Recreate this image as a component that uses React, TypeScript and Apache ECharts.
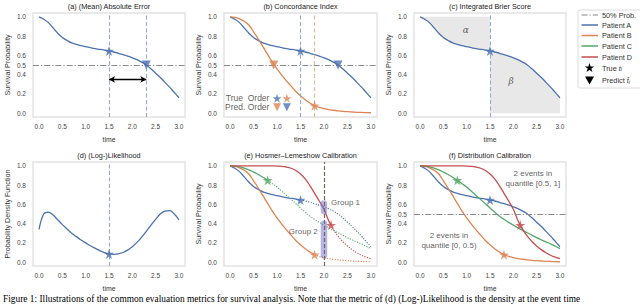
import React, { useEffect, useRef } from 'react';
import * as echarts from 'echarts';

// ---------- data ----------
const TIMES = [0, 0.1, 0.2, 0.3, 0.4, 0.5, 0.6, 0.7, 0.8, 0.9, 1.0, 1.1, 1.2, 1.3, 1.4, 1.5, 1.6, 1.7, 1.8, 1.9, 2.0, 2.1, 2.2, 2.3, 2.4, 2.5, 2.6, 2.7, 2.8, 2.9, 3.0];
const PATIENT_A = [1.0, 0.975, 0.94, 0.885, 0.83, 0.785, 0.755, 0.73, 0.715, 0.7, 0.69, 0.68, 0.67, 0.663, 0.655, 0.645, 0.635, 0.622, 0.607, 0.592, 0.575, 0.555, 0.53, 0.5, 0.46, 0.415, 0.37, 0.32, 0.27, 0.215, 0.16];
const PATIENT_B = [1.0, 0.995, 0.98, 0.955, 0.915, 0.845, 0.77, 0.69, 0.61, 0.53, 0.46, 0.395, 0.335, 0.28, 0.225, 0.18, 0.14, 0.105, 0.078, 0.06, 0.047, 0.037, 0.03, 0.024, 0.019, 0.015, 0.012, 0.009, 0.007, 0.005, 0.004];
const PATIENT_C = [1.0, 0.997, 0.99, 0.977, 0.958, 0.935, 0.91, 0.882, 0.85, 0.815, 0.78, 0.737, 0.693, 0.65, 0.607, 0.563, 0.52, 0.48, 0.445, 0.413, 0.385, 0.357, 0.33, 0.305, 0.28, 0.255, 0.232, 0.21, 0.19, 0.165, 0.14];
const PATIENT_D = [1.0, 1.0, 1.0, 1.0, 1.0, 1.0, 1.0, 1.0, 1.0, 0.999, 0.998, 0.995, 0.988, 0.975, 0.952, 0.915, 0.865, 0.795, 0.715, 0.635, 0.55, 0.43, 0.34, 0.27, 0.215, 0.168, 0.13, 0.098, 0.072, 0.052, 0.036];
const PDF_A = [0.34, 0.5, 0.52, 0.49, 0.44, 0.39, 0.345, 0.3, 0.265, 0.23, 0.2, 0.17, 0.145, 0.12, 0.1, 0.085, 0.08, 0.085, 0.1, 0.125, 0.16, 0.205, 0.26, 0.32, 0.385, 0.445, 0.5, 0.53, 0.535, 0.5, 0.44];

// true event times / survival at true time (A, B, C, D)
const TRUE_T = [1.5, 1.8, 0.8, 2.15];
const TRUE_S = [0.645, 0.078, 0.85, 0.385];
// predicted median times (A, B)
const PRED_T = [2.3, 0.93];
const PRED_S = [0.5, 0.5];
const PDF_STAR = [1.5, 0.085];

const X_TICKS = [0, 0.5, 1.0, 1.5, 2.0, 2.5, 3.0];
const Y_TICKS_HALF = [0, 0.2, 0.4, 0.5, 0.6, 0.8, 1.0];
const Y_TICKS = [0, 0.2, 0.4, 0.6, 0.8, 1.0];

const TITLES = ['(a) (Mean) Absolute Error', '(b) Concordance Index', '(c) Integrated Brier Score', '(d) (Log-)Likelihood', '(e) Hosmer\u2013Lemeshow Calibration', '(f) Distribution Calibration'];
const LEGEND_LABELS = ['50% Prob.', 'Patient A', 'Patient B', 'Patient C', 'Patient D'];
const CAPTION = 'Figure 1: Illustrations of the common evaluation metrics for survival analysis. Note that the metric of (d) (Log-)Likelihood is the density at the event time';

// ---------- style ----------
const BLUE = '#4c72b0';
const ORANGE = '#dd8452';
const GREEN = '#55a868';
const RED = '#c44e52';
const COLORS = [BLUE, ORANGE, GREEN, RED];
const LIGHT_BLUE = '#8fa9d9';
const LIGHT_ORANGE = '#f2b48c';
const GRAY = '#8a8a8a';
const FONT = 'Liberation Sans, Arial, Helvetica, sans-serif';
const STAR = 'path://M0,-10 L2.245,-3.09 L9.51,-3.09 L3.633,1.18 L5.88,8.09 L0,3.82 L-5.88,8.09 L-3.633,1.18 L-9.51,-3.09 L-2.245,-3.09 Z';
const DASHDOT = [6, 2, 1.2, 2];
const CLEAR = 'rgba(0,0,0,0)';

const GRIDS = [
  { left: 33, top: 13, width: 152, height: 104 },
  { left: 224, top: 13, width: 153, height: 104 },
  { left: 414, top: 13, width: 152, height: 104 },
  { left: 33, top: 162, width: 152, height: 104 },
  { left: 224, top: 162, width: 153, height: 104 },
  { left: 414, top: 162, width: 152, height: 104 },
];

const pairs = (ts: number[], vs: number[]) => ts.map((t, i) => [t, vs[i]]);

function split(vals: number[], tStar: number, sStar: number) {
  const solid: number[][] = [];
  const dotted: number[][] = [];
  TIMES.forEach((t, i) => {
    if (t < tStar - 1e-9) solid.push([t, vals[i]]);
    if (t > tStar + 1e-9) dotted.push([t, vals[i]]);
  });
  solid.push([tStar, sStar]);
  dotted.unshift([tStar, sStar]);
  return { solid, dotted };
}

function xAx(i: number) {
  return {
    gridIndex: i, type: 'value', min: -0.13, max: 3.13,
    axisLine: { show: false }, axisTick: { show: false }, splitLine: { show: false },
    axisLabel: { customValues: X_TICKS, formatter: (v: number) => v.toFixed(1), fontSize: 6.5, color: '#444', margin: 6, fontFamily: FONT },
    name: 'time', nameLocation: 'middle', nameGap: 19,
    nameTextStyle: { fontSize: 6.9, color: '#333', fontFamily: FONT },
  };
}

function yAx(i: number, ticks: number[], name: string) {
  return {
    gridIndex: i, type: 'value', min: -0.04, max: 1.04,
    axisLine: { show: false }, axisTick: { show: false }, splitLine: { show: false },
    axisLabel: { customValues: ticks, formatter: (v: number) => v.toFixed(1), fontSize: 6.5, color: '#444', margin: 7, fontFamily: FONT },
    name, nameLocation: 'middle', nameGap: 22,
    nameTextStyle: { fontSize: 7.2, color: '#333', fontFamily: FONT },
  };
}

function line(i: number, data: number[][], color: string, extra: any = {}) {
  return {
    type: 'line', xAxisIndex: i, yAxisIndex: i, data, smooth: 0.4, symbol: 'none', silent: true,
    lineStyle: { color, width: 1.3 }, z: 3, ...extra,
  };
}

function marker(i: number, x: number, y: number, color: string, kind: 'star' | 'tri', size = 9) {
  return {
    type: 'scatter', xAxisIndex: i, yAxisIndex: i, data: [[x, y]], silent: true,
    symbol: kind === 'star' ? STAR : 'triangle', symbolRotate: kind === 'tri' ? 180 : 0,
    symbolSize: kind === 'star' ? size + 1 : size,
    itemStyle: { color }, z: 5,
  };
}

function vline(x: number, color: string, width = 1.1) {
  return { xAxis: x, lineStyle: { color, type: [4, 2.5], width } };
}
function hline(y: number) {
  return { yAxis: y, lineStyle: { color: GRAY, type: DASHDOT, width: 1.1 } };
}
function marks(i: number, data: any[]) {
  return {
    type: 'line', xAxisIndex: i, yAxisIndex: i, data: [], silent: true, z: 2,
    markLine: { symbol: 'none', silent: true, label: { show: false }, data, animation: false },
  };
}

function textAt(i: number, x: number, y: number, text: string, position: any, style: any = {}) {
  return {
    type: 'scatter', xAxisIndex: i, yAxisIndex: i, data: [[x, y]], silent: true,
    symbolSize: 1, itemStyle: { color: CLEAR, borderWidth: 0 }, z: 6,
    label: { show: true, position, distance: 1, formatter: text, fontSize: 8, color: '#333', fontFamily: FONT, ...style },
  };
}

function buildOption() {
  const series: any[] = [];

  // (a)
  series.push(marks(0, [vline(1.5, LIGHT_BLUE), vline(2.3, LIGHT_BLUE), hline(0.5)]));
  series.push(line(0, pairs(TIMES, PATIENT_A), BLUE));
  series.push(marker(0, TRUE_T[0], TRUE_S[0], BLUE, 'star'));
  series.push(marker(0, PRED_T[0], PRED_S[0], BLUE, 'tri'));
  series.push({
    type: 'line', xAxisIndex: 0, yAxisIndex: 0, data: [], silent: true, z: 4,
    markLine: {
      symbol: ['arrow', 'arrow'], symbolSize: [5, 6], silent: true, label: { show: false },
      lineStyle: { color: '#000', width: 1.4, type: 'solid' },
      data: [[{ coord: [TRUE_T[0], 0.35] }, { coord: [PRED_T[0], 0.35] }]],
    },
  });

  // (b)
  series.push(marks(1, [vline(1.5, LIGHT_BLUE), vline(1.8, LIGHT_ORANGE), hline(0.5)]));
  series.push(line(1, pairs(TIMES, PATIENT_A), BLUE));
  series.push(line(1, pairs(TIMES, PATIENT_B), ORANGE));
  series.push(marker(1, TRUE_T[0], TRUE_S[0], BLUE, 'star'));
  series.push(marker(1, TRUE_T[1], TRUE_S[1], ORANGE, 'star'));
  series.push(marker(1, PRED_T[0], PRED_S[0], BLUE, 'tri'));
  series.push(marker(1, PRED_T[1], PRED_S[1], ORANGE, 'tri'));
  series.push(textAt(1, 0.87, 0.155, 'True  Order', 'left', { fontSize: 8.5 }));
  series.push(textAt(1, 0.87, 0.06, 'Pred. Order', 'left', { fontSize: 8.5 }));
  series.push(marker(1, 1.0, 0.155, BLUE, 'star', 8));
  series.push(marker(1, 1.21, 0.155, ORANGE, 'star', 8));
  series.push(marker(1, 1.0, 0.06, ORANGE, 'tri', 8));
  series.push(marker(1, 1.21, 0.06, BLUE, 'tri', 8));

  // (c)
  const before = pairs(TIMES, PATIENT_A).filter((p) => p[0] <= TRUE_T[0] + 1e-9);
  const after = pairs(TIMES, PATIENT_A).filter((p) => p[0] >= TRUE_T[0] - 1e-9);
  series.push(line(2, before, BLUE, { lineStyle: { width: 0, opacity: 0 }, areaStyle: { color: '#e8e8e8', opacity: 1, origin: 1 }, z: 1 }));
  series.push(line(2, after, BLUE, { lineStyle: { width: 0, opacity: 0 }, areaStyle: { color: '#e8e8e8', opacity: 1, origin: 0 }, z: 1 }));
  series.push(marks(2, [vline(1.5, LIGHT_BLUE)]));
  series.push(line(2, pairs(TIMES, PATIENT_A), BLUE));
  series.push(marker(2, TRUE_T[0], TRUE_S[0], BLUE, 'star'));
  series.push(textAt(2, 0.98, 0.86, '\u03b1', 'inside', { fontFamily: 'DejaVu Serif, serif', fontStyle: 'italic', fontSize: 9 }));
  series.push(textAt(2, 1.95, 0.33, '\u03b2', 'inside', { fontFamily: 'DejaVu Serif, serif', fontStyle: 'italic', fontSize: 9 }));

  // (d)
  series.push(marks(3, [vline(1.5, LIGHT_BLUE)]));
  series.push(line(3, pairs(TIMES, PDF_A), BLUE));
  series.push(marker(3, PDF_STAR[0], PDF_STAR[1], BLUE, 'star'));

  // (e)
  series.push(marks(4, [{ xAxis: 2.0, lineStyle: { color: '#7a685e', type: [4, 2], width: 1.2 } }]));
  [PATIENT_A, PATIENT_B, PATIENT_C, PATIENT_D].forEach((vals, k) => {
    const s = split(vals, TRUE_T[k], TRUE_S[k]);
    series.push(line(4, s.solid, COLORS[k]));
    series.push(line(4, s.dotted, COLORS[k], { lineStyle: { color: COLORS[k], width: 1.1, type: [1.2, 1.4] } }));
  });
  series.push(line(4, [[2.0, 0.53], [2.0, 0.61]], '#8e8ed6', { smooth: false, lineStyle: { color: 'rgba(120,120,210,0.55)', width: 6.5, cap: 'round' }, z: 4 }));
  series.push(line(4, [[2.0, 0.07], [2.0, 0.4]], '#8e8ed6', { smooth: false, lineStyle: { color: 'rgba(120,120,210,0.55)', width: 6.5, cap: 'round' }, z: 4 }));
  TRUE_T.forEach((t, k) => series.push(marker(4, t, TRUE_S[k], COLORS[k], 'star')));
  series.push(textAt(4, 2.12, 0.62, 'Group 1', 'right'));
  series.push(textAt(4, 1.9, 0.32, 'Group 2', 'left'));

  // (f)
  series.push(marks(5, [hline(0.5)]));
  [PATIENT_A, PATIENT_B, PATIENT_C, PATIENT_D].forEach((vals, k) => series.push(line(5, pairs(TIMES, vals), COLORS[k])));
  TRUE_T.forEach((t, k) => series.push(marker(5, t, TRUE_S[k], COLORS[k], 'star')));
  series.push(textAt(5, 2.42, 0.87, '2 events in\nquantile [0.5, 1]', 'inside', { align: 'center', lineHeight: 10 }));
  series.push(textAt(5, 0.62, 0.23, '2 events in\nquantile [0, 0.5)', 'inside', { align: 'center', lineHeight: 10 }));

  // graphic: titles, legend, caption
  const graphic: any[] = [];
  GRIDS.forEach((g, i) => {
    graphic.push({
      type: 'text', x: g.left + g.width / 2, y: g.top - 3, silent: true,
      style: { text: TITLES[i], fontSize: 7.3, fill: '#222', fontFamily: FONT, align: 'center', verticalAlign: 'bottom' },
    });
  });
  const lx = 578, ly = 10;
  graphic.push({ type: 'rect', shape: { x: lx, y: ly, width: 72, height: 78, r: 2 }, style: { fill: '#fff', stroke: '#dcdcdc', lineWidth: 1 }, silent: true });
  const rows = [15, 25, 35.5, 46, 57, 68, 80.5];
  const lineColors = [GRAY, BLUE, ORANGE, GREEN, RED];
  LEGEND_LABELS.forEach((lab, k) => {
    graphic.push({
      type: 'line', shape: { x1: lx + 3.5, y1: rows[k], x2: lx + 20, y2: rows[k] }, silent: true,
      style: { stroke: lineColors[k], lineWidth: k === 0 ? 1.1 : 1.5, lineDash: k === 0 ? DASHDOT : null },
    });
    graphic.push({ type: 'text', x: lx + 24, y: rows[k], silent: true, style: { text: lab, fontSize: 7.3, fill: '#333', fontFamily: FONT, verticalAlign: 'middle' } });
  });
  const cx = lx + 11.5;
  const starPts: number[][] = [];
  for (let k = 0; k < 10; k++) {
    const r = k % 2 === 0 ? 5 : 1.95;
    const a = -Math.PI / 2 + (k * Math.PI) / 5;
    starPts.push([cx + r * Math.cos(a), rows[5] + r * Math.sin(a)]);
  }
  graphic.push({ type: 'polygon', shape: { points: starPts }, style: { fill: '#000' }, silent: true });
  graphic.push({ type: 'polygon', shape: { points: [[cx - 4.5, rows[6] - 4], [cx + 4.5, rows[6] - 4], [cx, rows[6] + 4]] }, style: { fill: '#000' }, silent: true });
  const rich = { n: { fontSize: 7.3, fill: '#333' }, i: { fontSize: 7.3, fontStyle: 'italic', fill: '#333' }, s: { fontSize: 5, fontStyle: 'italic', fill: '#333', verticalAlign: 'bottom' } };
  graphic.push({ type: 'text', x: lx + 24, y: rows[5], silent: true, style: { text: '{n|True }{i|t}{s|i}', verticalAlign: 'middle', fontFamily: FONT, rich } });
  graphic.push({ type: 'text', x: lx + 24, y: rows[6], silent: true, style: { text: '{n|Predict }{i|t\u0302}{s|i}', verticalAlign: 'middle', fontFamily: FONT, rich } });
  graphic.push({
    type: 'text', x: 3, y: 294.5, silent: true,
    style: { text: CAPTION, fontSize: 9.4, lineHeight: 9.4, fill: '#000', fontFamily: 'Liberation Serif, Times New Roman, serif', verticalAlign: 'top' },
  });

  return {
    animation: false,
    backgroundColor: '#fff',
    textStyle: { fontFamily: FONT },
    grid: GRIDS.map((g) => ({ ...g, show: true, borderColor: '#e2e2e2', borderWidth: 1.4, backgroundColor: '#fff', containLabel: false })),
    xAxis: GRIDS.map((_, i) => xAx(i)),
    yAxis: [
      yAx(0, Y_TICKS_HALF, 'Survival Probability'),
      yAx(1, Y_TICKS_HALF, 'Survival Probability'),
      yAx(2, Y_TICKS, 'Survival Probability'),
      yAx(3, Y_TICKS, 'Probability Density Function'),
      yAx(4, Y_TICKS, 'Survival Probability'),
      yAx(5, Y_TICKS_HALF, 'Survival Probability'),
    ],
    series,
    graphic,
  };
}

export default function App() {
  const ref = useRef<HTMLDivElement>(null);
  useEffect(() => {
    const chart = echarts.init(ref.current as HTMLDivElement, null, { renderer: 'svg' });
    chart.setOption(buildOption() as any);
    return () => chart.dispose();
  }, []);
  return <div ref={ref} style={{ position: 'absolute', left: 0, top: 0, width: 640, height: 304, background: '#fff' }} />;
}
